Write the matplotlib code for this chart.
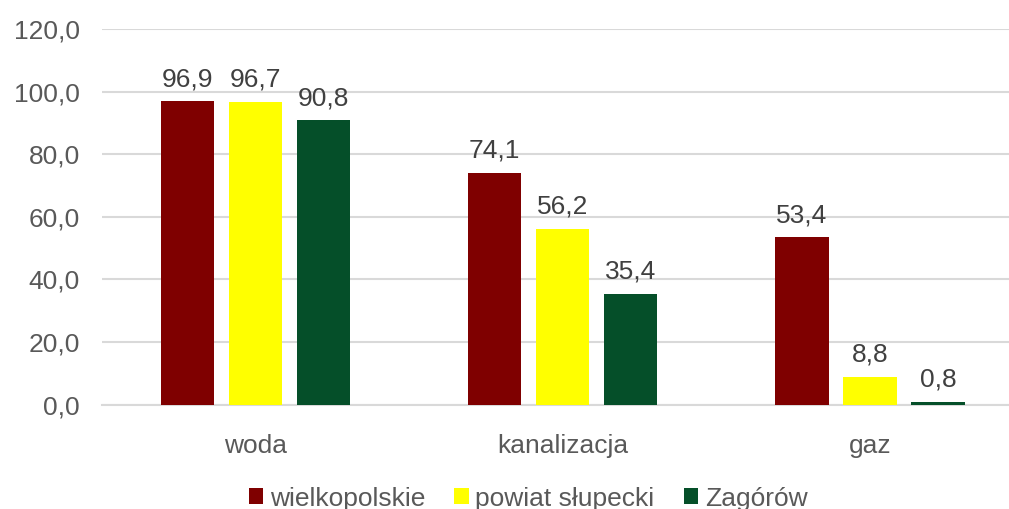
import matplotlib.pyplot as plt
import numpy as np

categories = ["woda", "kanalizacja", "gaz"]
series_names = ["wielkopolskie", "powiat słupecki", "Zagórów"]
wielkopolskie = [96.9, 74.1, 53.4]
powiat_slupecki = [96.7, 56.2, 8.8]
zagorow = [90.8, 35.4, 0.8]
colors = ["#7F0000", "#FFFF00", "#054F29"]

plt.rcParams['font.family'] = ['Liberation Sans', 'DejaVu Sans']

fig = plt.figure(figsize=(10.09, 5.09), dpi=100)
# axes slightly wider than the figure, the right edge is cut off like in the original
ax = fig.add_axes([102 / 1009, 104.5 / 509, 921.6 / 1009, 375.5 / 509])

x = np.arange(len(categories))
width = 0.173
step = 0.2215
for i, (vals, name) in enumerate(zip([wielkopolskie, powiat_slupecki, zagorow], series_names)):
    bars = ax.bar(x + (i - 1) * step, vals, width, color=colors[i], label=name, zorder=3)
    for b, v in zip(bars, vals):
        ax.text(b.get_x() + b.get_width() / 2, v + 3.2, f"{v:.1f}".replace(".", ","),
                ha="center", va="bottom", fontsize=19, color="#404040")

ax.set_xlim(-0.5, 2.5)
ax.set_ylim(0, 120)
ax.set_yticks(np.arange(0, 121, 20))
ax.set_yticklabels([f"{t:.1f}".replace(".", ",") for t in np.arange(0, 121, 20)])
ax.set_xticks(x)
ax.set_xticklabels(categories)
ax.tick_params(axis="both", length=0, labelsize=19, labelcolor="#595959")
ax.tick_params(axis="y", pad=16)
ax.tick_params(axis="x", pad=21)
ax.grid(axis="y", color="#D9D9D9", linewidth=1.5, zorder=0)
for s in ["top", "right", "left"]:
    ax.spines[s].set_visible(False)
ax.spines["bottom"].set_color("#D9D9D9")
ax.spines["bottom"].set_linewidth(1.5)

fig.legend(loc="lower center", bbox_to_anchor=(528 / 1009, -0.05), ncol=3, frameon=False,
           fontsize=19, handlelength=0.55, handleheight=0.55, handletextpad=0.25,
           columnspacing=1.1, labelcolor="#595959")

fig.savefig("out.png", dpi=100)
